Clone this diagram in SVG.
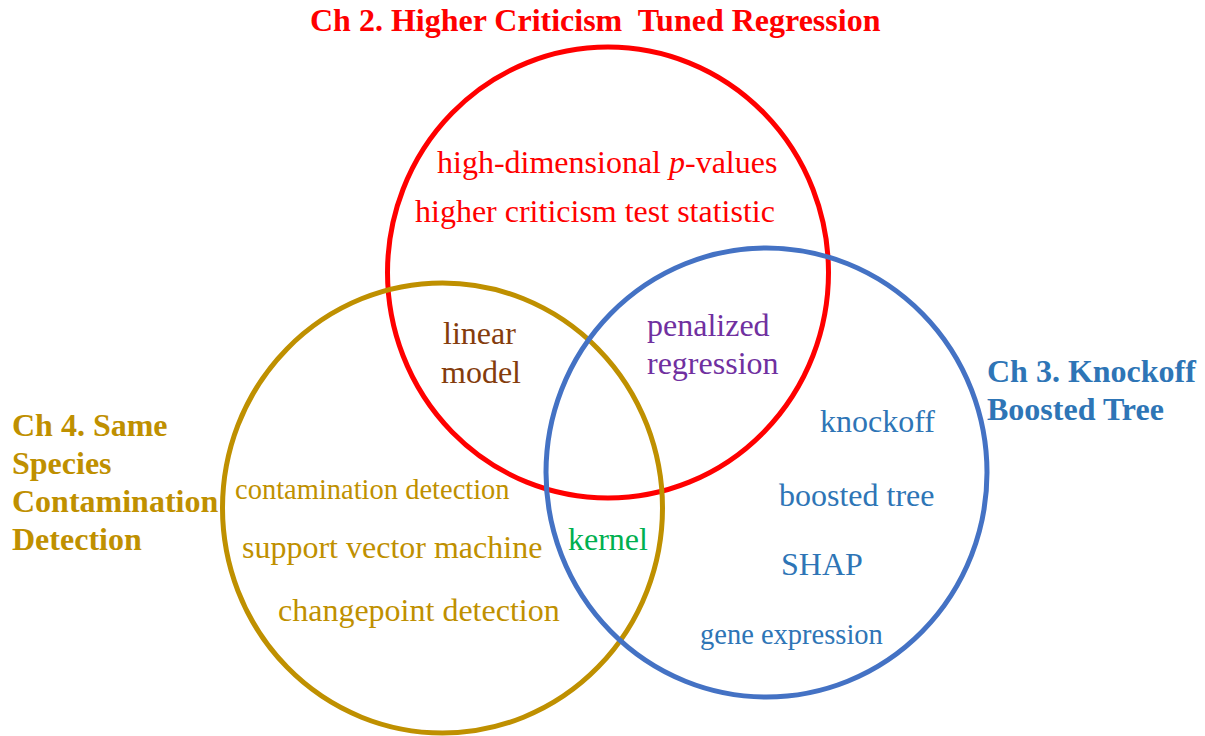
<svg xmlns="http://www.w3.org/2000/svg" width="1205" height="736" viewBox="0 0 1205 736">
<style>
text{font-family:"Liberation Serif","Times New Roman",serif;}
.b{font-weight:bold;font-size:32px;}
.t{font-size:32px;}
.s{font-size:28.5px;}
.c{fill:none;stroke-width:5;}
.red{fill:#FF0000;}
.gold{fill:#BF9000;}
.blue{fill:#2E75B6;}
</style>
<rect width="1205" height="736" fill="#ffffff"/>
<g id="connectors"></g>
<g id="circle-ch2"><ellipse class="c" cx="608" cy="272.5" rx="220.5" ry="225.5" stroke="#FF0000"/></g>
<g id="circle-ch4"><ellipse class="c" cx="442.5" cy="508" rx="220" ry="225" stroke="#BF9000"/></g>
<g id="circle-ch3"><ellipse class="c" cx="766.5" cy="472.5" rx="220.5" ry="224.5" stroke="#4472C4"/></g>
<g id="title-ch2"><text class="b red" x="310" y="31" xml:space="preserve">Ch 2. Higher Criticism  Tuned Regression</text></g>
<g id="ch2-items">
<text class="t red" x="437" y="173">high-dimensional <tspan font-style="italic">p</tspan>-values</text>
<text class="t red" x="415" y="222">higher criticism test statistic</text>
</g>
<g id="linear-model"><text class="t" fill="#843C0C"><tspan x="443" y="344">linear</tspan><tspan x="441" y="383">model</tspan></text></g>
<g id="penalized-regression"><text class="t" fill="#7030A0"><tspan x="647" y="336">penalized</tspan><tspan x="647" y="374">regression</tspan></text></g>
<g id="title-ch3"><text class="b blue"><tspan x="987" y="382">Ch 3. Knockoff</tspan><tspan x="987" y="420">Boosted Tree</tspan></text></g>
<g id="ch3-items">
<text class="t blue" x="820" y="432">knockoff</text>
<text class="t blue" x="779" y="506">boosted tree</text>
<text class="t blue" x="781" y="575">SHAP</text>
<text class="s blue" x="700" y="644">gene expression</text>
</g>
<g id="title-ch4"><text class="b gold"><tspan x="12" y="436">Ch 4. Same</tspan><tspan x="12" y="474">Species</tspan><tspan x="12" y="512">Contamination</tspan><tspan x="12" y="550">Detection</tspan></text></g>
<g id="ch4-items">
<text class="s gold" x="235" y="499">contamination detection</text>
<text class="t gold" x="242" y="558">support vector machine</text>
<text class="t gold" x="278" y="621">changepoint detection</text>
</g>
<g id="kernel"><text class="t" fill="#00B050" x="568" y="550">kernel</text></g>
</svg>
